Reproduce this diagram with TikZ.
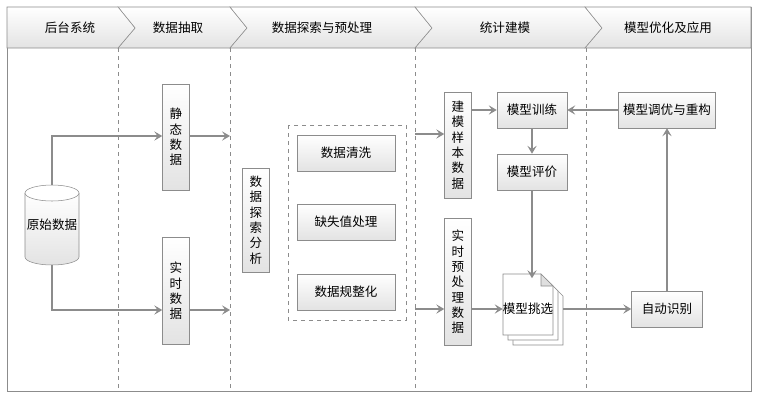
\documentclass[tikz,border=0pt]{standalone}
\usepackage{fontspec}
\setmainfont{Noto Sans CJK SC}
\usetikzlibrary{arrows.meta}
\begin{document}
\begin{tikzpicture}[x=0.75pt,y=-0.75pt]
        \tikzstyle{kuang}=[draw=gray!90,top color=white,bottom color=gray!22,inner sep=0pt,font=\fontsize{9.4}{11.5}\selectfont]
        \tikzstyle{shu}=[kuang,align=center,minimum width=27*0.75pt]
        \tikzstyle{heng}=[kuang,minimum height=36*0.75pt]
        \tikzstyle{jiantou}=[draw=gray!90,thick,-{Stealth[length=6pt,width=7pt,inset=2.5pt]}]
        \useasboundingbox (0,0) rectangle (759,401);
        \draw[gray!90] (7,7) rectangle (751,391);
        % header
        \foreach \a/\b in {118/230,230/415,415/585}
            \draw[gray!90,top color=white,bottom color=gray!22] (\a,7) -- (\b,7) -- (\b+17,28) -- (\b,48) -- (\a,48) -- (\a+17,28) -- cycle;
        \draw[gray!90,top color=white,bottom color=gray!22] (7,7) -- (118,7) -- (135,28) -- (118,48) -- (7,48) -- cycle;
        \draw[gray!90,top color=white,bottom color=gray!22] (585,7) -- (751,7) -- (751,48) -- (585,48) -- (602,28) -- cycle;
        \foreach \x/\t in {70/后台系统,178/数据抽取,322/数据探索与预处理,505/统计建模,668/模型优化及应用}
            \node[font=\fontsize{9.4}{11}\selectfont] at (\x,28) {\t};
        % lanes
        \foreach \x in {118,230,415,586}
            \draw[gray!90,dashed] (\x,48) -- (\x,391);
        % cylinder
        \draw[gray!90,top color=white,bottom color=gray!22] (25,193) -- (25,257) arc[start angle=180,end angle=360,x radius=20.25pt,y radius=6pt] -- (79,193);
        \draw[gray!90,fill=white] (52,193) ellipse[x radius=20.25pt,y radius=6pt];
        \node[minimum width=55*0.75pt,minimum height=80*0.75pt,inner sep=0pt,font=\fontsize{9.4}{11}\selectfont] (yuan) at (52,225) {原始数据};
        \node[shu,minimum height=106*0.75pt] (jing) at (176,137) {静\\态\\数\\据};
        \node[shu,minimum height=107*0.75pt] (shi) at (176,291) {实\\时\\数\\据};
        \node[shu,minimum height=104*0.75pt] (tan) at (256,220) {数\\据\\探\\索\\分\\析};
        \draw[gray!90,dashed] (288,125) rectangle (406,320);
        \node[heng,minimum width=98*0.75pt] (qing) at (346,153) {数据清洗};
        \node[heng,minimum width=98*0.75pt] (que) at (346,222) {缺失值处理};
        \node[heng,minimum width=98*0.75pt] (gui) at (346,292) {数据规整化};
        \node[shu,minimum height=106*0.75pt] (jian) at (458,145) {建\\模\\样\\本\\数\\据};
        \node[shu,minimum height=127*0.75pt] (yu) at (458,282) {实\\时\\预\\处\\理\\数\\据};
        \node[heng,minimum width=70*0.75pt] (xun) at (532,110) {模型训练};
        \node[heng,minimum width=70*0.75pt] (ping) at (532,172) {模型评价};
        \node[heng,minimum width=97*0.75pt] (you) at (667,110) {模型调优与重构};
        \node[heng,minimum width=71*0.75pt] (shib) at (667,309) {自动识别};
        % stacked pages
        \foreach \d in {10,5,0}
            \draw[gray!90,fill=white] (503+\d,274+\d) -- (541+\d,274+\d) -- (553+\d,286+\d) -- (553+\d,335+\d) -- (503+\d,335+\d) -- cycle;
        \draw[gray!90,fill=gray!25] (541,274) -- (541,286) -- (553,286) -- cycle;
        \node[minimum width=50*0.75pt,minimum height=61*0.75pt,inner sep=0pt,font=\fontsize{9.4}{11}\selectfont] (tiao) at (528,309) {模型挑选};
        % connectors
        \coordinate (c1) at (230,136);
        \coordinate (c2) at (230,310);
        \coordinate (c3) at (415,134);
        \coordinate (c4) at (415,309);
        \draw[jiantou] (yuan.north) |- (jing.west |- c1);
        \draw[jiantou] (yuan.south) |- (shi.west |- c2);
        \draw[jiantou] (jing.east |- c1) -- (c1);
        \draw[jiantou] (shi.east |- c2) -- (c2);
        \draw[jiantou] (c3) -- (jian.west |- c3);
        \draw[jiantou] (c4) -- (yu.west |- c4);
        \draw[jiantou] (jian.east |- xun) -- (xun);
        \draw[jiantou] (yu.east |- tiao) -- (tiao);
        \draw[jiantou] (xun) -- (ping);
        \draw[jiantou] (ping.south) -- (ping.south |- tiao.north);
        \draw[jiantou] (tiao.east -| 563,309) -- (shib);
        \draw[jiantou] (shib) -- (you);
        \draw[jiantou] (you) -- (xun);
    \end{tikzpicture}
\end{document}
